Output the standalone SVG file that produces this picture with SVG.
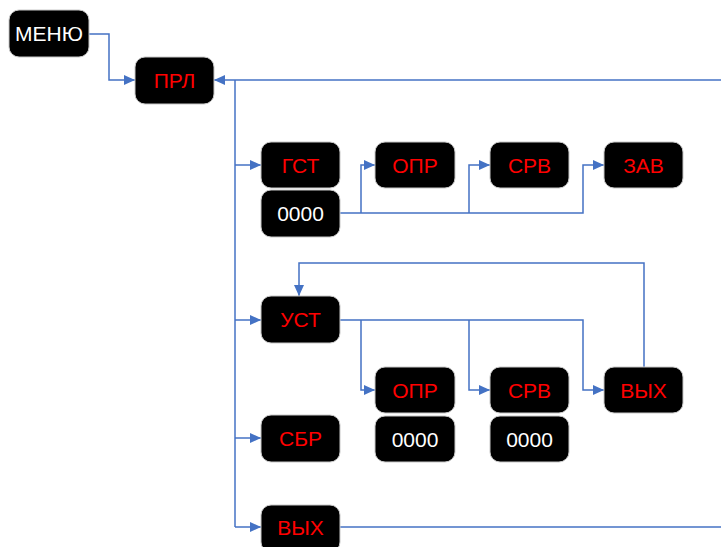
<svg xmlns="http://www.w3.org/2000/svg" width="721" height="547" viewBox="0 0 721 547">
<style>
.box{fill:#000;stroke:#c8c8c8;stroke-width:1}
.t{font-family:"Liberation Sans",Arial,sans-serif;font-size:21px;text-anchor:middle}
.r{fill:#ff0000}
.w{fill:#ffffff}
.c{fill:none;stroke:#4472c4;stroke-width:1.5}
</style>
<defs>
<marker id="ar" markerUnits="userSpaceOnUse" markerWidth="11" markerHeight="10" refX="11" refY="5" orient="auto">
<path d="M0,0 L11,5 L0,10 z" fill="#4472c4"/>
</marker>
</defs>
<rect width="721" height="547" fill="#fff"/>
<g id="connectors">
<path class="c" d="M89,34 H109 V80 H135" marker-end="url(#ar)"/>
<path class="c" d="M721,80 H214" marker-end="url(#ar)"/>
<path class="c" d="M235,80 V527"/>
<path class="c" d="M235,165 H261" marker-end="url(#ar)"/>
<path class="c" d="M235,320 H261" marker-end="url(#ar)"/>
<path class="c" d="M235,438 H261" marker-end="url(#ar)"/>
<path class="c" d="M235,527 H261" marker-end="url(#ar)"/>
<path class="c" d="M340,213 H583 V165 H604" marker-end="url(#ar)"/>
<path class="c" d="M361,213 V165 H375" marker-end="url(#ar)"/>
<path class="c" d="M469,213 V165 H490" marker-end="url(#ar)"/>
<path class="c" d="M340,320 H583 V390 H604" marker-end="url(#ar)"/>
<path class="c" d="M361,320 V390 H375" marker-end="url(#ar)"/>
<path class="c" d="M469,320 V390 H490" marker-end="url(#ar)"/>
<path class="c" d="M644,367 V263 H299 V296" marker-end="url(#ar)"/>
<path class="c" d="M340,527 H721"/>
</g>
<g id="menu"><rect class="box" x="9" y="10" width="80" height="47" rx="10"/><text class="t w" x="49" y="41">МЕНЮ</text></g>
<g id="prl"><rect class="box" x="135" y="57" width="79" height="47" rx="10"/><text class="t r" x="174.5" y="88">ПРЛ</text></g>
<g id="gst"><rect class="box" x="261" y="142" width="79" height="46" rx="10"/><text class="t r" x="300.5" y="172.5">ГСТ</text></g>
<g id="gst_val"><rect class="box" x="261" y="190" width="79" height="47" rx="10"/><text class="t w" x="300.5" y="221">0000</text></g>
<g id="opr1"><rect class="box" x="375" y="142" width="80" height="46" rx="10"/><text class="t r" x="415" y="172.5">ОПР</text></g>
<g id="srv1"><rect class="box" x="490" y="142" width="79" height="46" rx="10"/><text class="t r" x="529.5" y="172.5">СРВ</text></g>
<g id="zav"><rect class="box" x="604" y="142" width="79" height="46" rx="10"/><text class="t r" x="643.5" y="172.5">ЗАВ</text></g>
<g id="ust"><rect class="box" x="261" y="296" width="79" height="47" rx="10"/><text class="t r" x="300.5" y="327">УСТ</text></g>
<g id="opr2"><rect class="box" x="375" y="367" width="80" height="46" rx="10"/><text class="t r" x="415" y="397.5">ОПР</text></g>
<g id="opr2_val"><rect class="box" x="375" y="416" width="80" height="46" rx="10"/><text class="t w" x="415" y="446.5">0000</text></g>
<g id="srv2"><rect class="box" x="490" y="367" width="79" height="46" rx="10"/><text class="t r" x="529.5" y="397.5">СРВ</text></g>
<g id="srv2_val"><rect class="box" x="490" y="416" width="79" height="46" rx="10"/><text class="t w" x="529.5" y="446.5">0000</text></g>
<g id="vyh1"><rect class="box" x="604" y="367" width="79" height="46" rx="10"/><text class="t r" x="643.5" y="397.5">ВЫХ</text></g>
<g id="sbr"><rect class="box" x="261" y="415" width="79" height="47" rx="10"/><text class="t r" x="300.5" y="446">СБР</text></g>
<g id="vyh2"><rect class="box" x="261" y="505" width="79" height="47" rx="10"/><text class="t r" x="300.5" y="535">ВЫХ</text></g>
</svg>
